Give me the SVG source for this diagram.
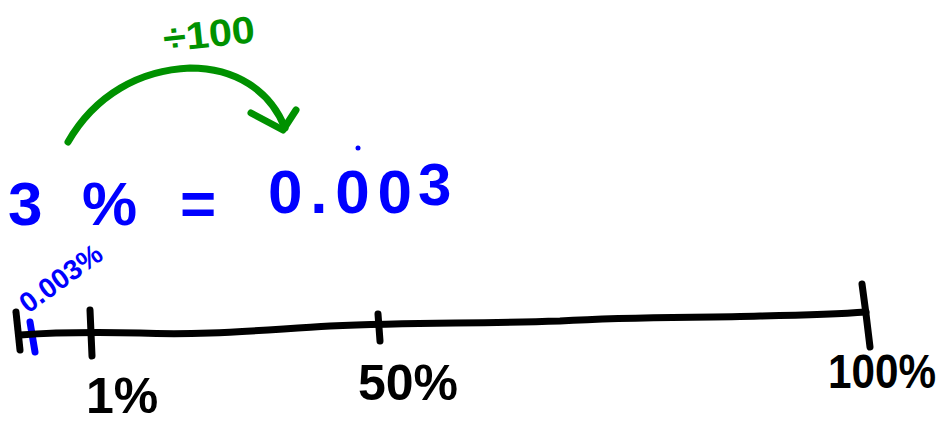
<svg xmlns="http://www.w3.org/2000/svg" width="951" height="425" viewBox="0 0 951 425">
<style>
.s{fill:none;stroke-linecap:round;stroke-linejoin:round;stroke-width:7}
.k{stroke:#000}
.b{stroke:#0000ff}
.g{stroke:#009100}
.t{font-family:"Liberation Sans",Arial,sans-serif;font-weight:bold}
.tk{fill:#000}
.tb{fill:#0000ff}
.tg{fill:#009100}
</style>
<rect width="951" height="425" fill="#fff"/>
<g id="arrow">
<path class="s g" d="M68,142 C95,95 140,70 190,68 C235,68 270,90 285,128"/>
<path class="s g" d="M251,113 L283,130 L296,110"/>
</g>
<g id="divide-label">
<text class="t tg" x="163" y="48" font-size="38" textLength="92" lengthAdjust="spacingAndGlyphs" transform="rotate(-6 200 35)">÷100</text>
</g>
<g id="equation">
<text class="t tb" x="8" y="225" font-size="62">3</text>
<text class="t tb" x="82" y="225" font-size="62">%</text>
<text class="t tb" x="180" y="225" font-size="62">=</text>
<text class="t tb" x="268" y="213" font-size="62" textLength="144" lengthAdjust="spacing">0.00</text>
<text class="t tb" x="418" y="205" font-size="60">3</text>
<circle cx="358" cy="148" r="2.5" fill="#0000ff"/>
</g>
<g id="small-label">
<text class="t tb" x="28" y="314" font-size="28" transform="rotate(-36 28 314)">0.003%</text>
<path class="s b" d="M30,322 L35,352"/>
</g>
<g id="number-line">
<path class="s k" d="M20,335 C60,332 90,332 140,333 C200,336 260,330 330,326 C420,322 470,324 560,321 C640,316 700,318 760,316 C810,315 840,314 866,312"/>
<path class="s k" d="M16,312 L20,350"/>
<path class="s k" d="M90,310 L92,356"/>
<path class="s k" d="M378,314 L380,341"/>
<path class="s k" d="M862,284 L866,314 L870,347"/>
</g>
<g id="labels">
<text class="t tk" x="86" y="413" font-size="50">1%</text>
<text class="t tk" x="358" y="400" font-size="50">50%</text>
<text class="t tk" x="828" y="388" font-size="48" textLength="108" lengthAdjust="spacingAndGlyphs">100%</text>
</g>
</svg>
